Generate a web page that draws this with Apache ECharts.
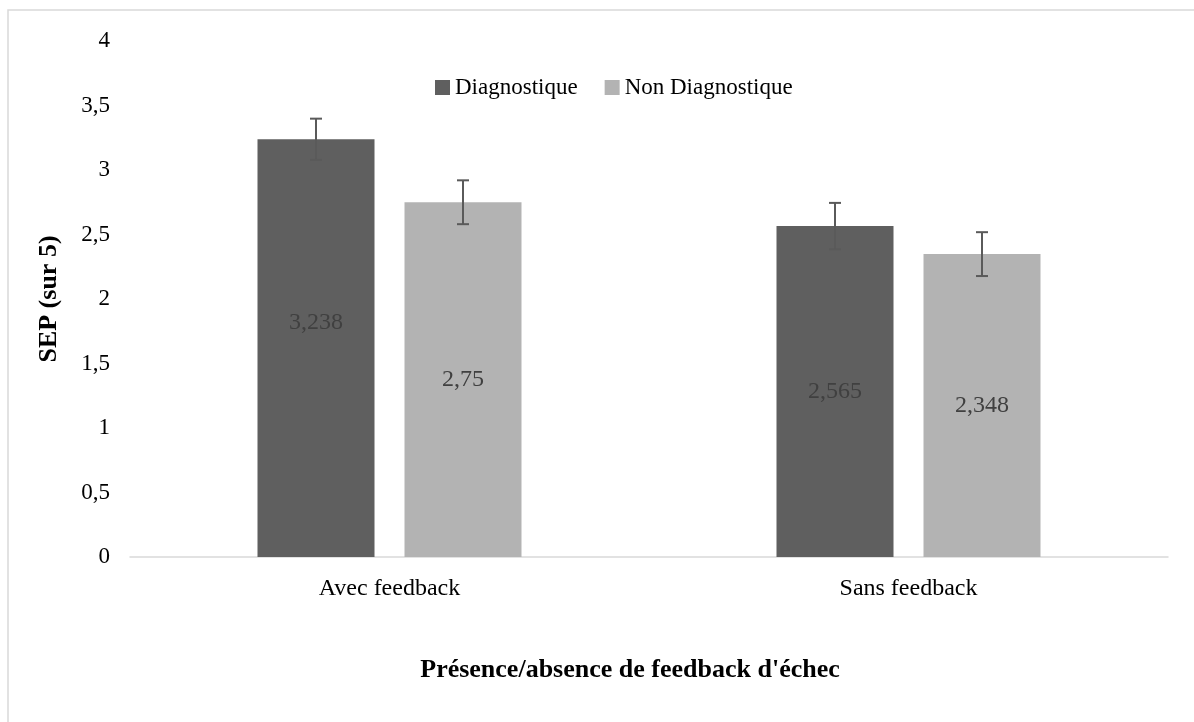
<!DOCTYPE html>
<html>
<head>
<meta charset="utf-8">
<script src="https://cdn.jsdelivr.net/npm/echarts@6/dist/echarts.min.js"></script>
<style>
  html, body { margin: 0; padding: 0; background: #fff; }
  #main { width: 1194px; height: 722px; }
</style>
</head>
<body>
<div id="main"></div>
<script>
// données
var categories = ['Avec feedback', 'Sans feedback']
var diagnostique = [3.238, 2.565]
var nonDiagnostique = [2.75, 2.348]
var errDiag = [0.16, 0.18]
var errNonDiag = [0.17, 0.17]

var FONT = 'Liberation Serif'
var fmt = function (v) { return String(v).replace('.', ',') }

function errData (vals, errs) {
  return vals.map(function (v, i) { return [i, v - errs[i], v + errs[i]] })
}

// décalage des barres d'erreur par rapport au centre de la catégorie
var BAR_W = 117
var GAP = 30
function errRender (side) {
  return function (params, api) {
    var i = api.value(0)
    var lo = api.coord([i, api.value(1)])
    var hi = api.coord([i, api.value(2)])
    var x = lo[0] + side * (BAR_W + GAP) / 2
    var cap = 6
    var st = { stroke: '#5a5a5a', lineWidth: 2 }
    return {
      type: 'group',
      children: [
        { type: 'line', shape: { x1: x, y1: lo[1], x2: x, y2: hi[1] }, style: st },
        { type: 'line', shape: { x1: x - cap, y1: lo[1], x2: x + cap, y2: lo[1] }, style: st },
        { type: 'line', shape: { x1: x - cap, y1: hi[1], x2: x + cap, y2: hi[1] }, style: st }
      ]
    }
  }
}

var chart = echarts.init(document.getElementById('main'))
var option = {
  animation: false,
  textStyle: { fontFamily: FONT },
  graphic: [{
    type: 'rect',
    shape: { x: 8, y: 10, width: 1300, height: 800 },
    style: { fill: 'none', stroke: '#d9d9d9', lineWidth: 1.5 },
    silent: true
  }],
  legend: {
    top: 71,
    left: 430,
    itemWidth: 15,
    itemHeight: 15,
    itemGap: 27,
    icon: 'rect',
    textStyle: { fontFamily: FONT, fontSize: 23, color: '#000' },
    data: ['Diagnostique', 'Non Diagnostique']
  },
  grid: { left: 130, right: 26, top: 41, bottom: 165 },
  xAxis: {
    type: 'category',
    data: categories,
    axisLine: { lineStyle: { color: '#d9d9d9', width: 1.5 } },
    axisTick: { show: false },
    axisLabel: { fontFamily: FONT, fontSize: 24, color: '#000', margin: 20 },
    name: 'Présence/absence de feedback d\'échec',
    nameLocation: 'middle',
    nameGap: 100,
    nameTextStyle: { fontFamily: FONT, fontSize: 26, fontWeight: 'bold', color: '#000', padding: [0, 0, 0, -38] }
  },
  yAxis: {
    type: 'value',
    min: 0,
    max: 4,
    interval: 0.5,
    axisLine: { show: false },
    axisTick: { show: false },
    splitLine: { show: false },
    axisLabel: { fontFamily: FONT, fontSize: 23, color: '#000', margin: 20, formatter: fmt },
    name: 'SEP (sur 5)',
    nameLocation: 'middle',
    nameGap: 68,
    nameTextStyle: { fontFamily: FONT, fontSize: 26, fontWeight: 'bold', color: '#000' }
  },
  series: [
    {
      name: 'Diagnostique',
      type: 'bar',
      barWidth: BAR_W,
      barGap: (GAP / BAR_W * 100) + '%',
      itemStyle: { color: '#5f5f5f' },
      label: {
        show: true,
        position: 'inside',
        fontFamily: FONT,
        fontSize: 24,
        color: '#404040',
        formatter: function (p) { return fmt(p.value) }
      },
      data: diagnostique.map(function (v, i) {
        return i === 0 ? { value: v, label: { offset: [0, -25] } } : v
      })
    },
    {
      name: 'Non Diagnostique',
      type: 'bar',
      barWidth: BAR_W,
      itemStyle: { color: '#b3b3b3' },
      label: {
        show: true,
        position: 'inside',
        fontFamily: FONT,
        fontSize: 24,
        color: '#404040',
        formatter: function (p) { return fmt(p.value) }
      },
      data: nonDiagnostique
    },
    {
      type: 'custom',
      renderItem: errRender(-1),
      encode: { x: 0, y: [1, 2] },
      data: errData(diagnostique, errDiag),
      z: 10,
      silent: true
    },
    {
      type: 'custom',
      renderItem: errRender(1),
      encode: { x: 0, y: [1, 2] },
      data: errData(nonDiagnostique, errNonDiag),
      z: 10,
      silent: true
    }
  ]
}
chart.setOption(option)
window.addEventListener('resize', function () { chart.resize() })
</script>
</body>
</html>
